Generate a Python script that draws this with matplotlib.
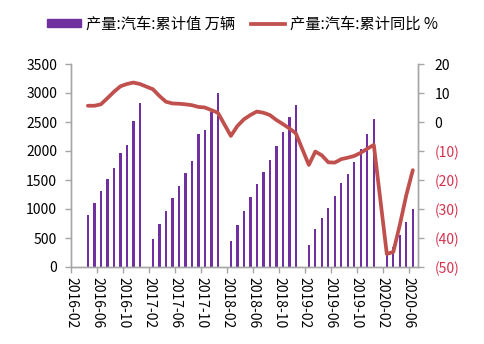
import matplotlib
matplotlib.use("Agg")
import matplotlib.pyplot as plt
from matplotlib.patches import Patch
from matplotlib.lines import Line2D
from matplotlib.ticker import FixedLocator, FuncFormatter

plt.rcParams['font.family'] = ['Noto Sans CJK SC', 'DejaVu Sans']

# Monthly cumulative auto production (万辆) and cumulative YoY growth (%)
months = [
    "2016-04", "2016-05", "2016-06", "2016-07", "2016-08", "2016-09", "2016-10", "2016-11", "2016-12",
    "2017-02", "2017-03", "2017-04", "2017-05", "2017-06", "2017-07", "2017-08", "2017-09", "2017-10", "2017-11", "2017-12",
    "2018-02", "2018-03", "2018-04", "2018-05", "2018-06", "2018-07", "2018-08", "2018-09", "2018-10", "2018-11", "2018-12",
    "2019-02", "2019-03", "2019-04", "2019-05", "2019-06", "2019-07", "2019-08", "2019-09", "2019-10", "2019-11", "2019-12",
    "2020-02", "2020-03", "2020-04", "2020-05", "2020-06",
]
production = [
    897, 1098, 1310, 1512, 1712, 1971, 2103, 2523, 2822,
    477, 741, 966, 1184, 1397, 1615, 1828, 2287, 2356, 2678, 3005,
    450, 724, 966, 1201, 1431, 1643, 1839, 2086, 2322, 2586, 2793,
    379, 649, 839, 1023, 1224, 1443, 1598, 1816, 2029, 2287, 2552,
    247, 347, 557, 770, 1000,
]
yoy = [
    5.6, 5.6, 6.1, 8.2, 10.4, 12.3, 13.1, 13.6, 13.1,
    11.3, 9.0, 7.0, 6.4, 6.3, 6.1, 5.8, 5.2, 5.0, 4.1, 3.2,
    -4.8, -1.4, 0.9, 2.4, 3.6, 3.2, 2.4, 0.7, -0.7, -2.2, -3.9,
    -14.8, -10.2, -11.5, -13.9, -14.0, -12.8, -12.3, -11.7, -10.6, -9.2, -7.9,
    -45.5, -44.8, -35.5, -25.2, -16.6,
]
tick_labels = ["2016-02", "2016-06", "2016-10", "2017-02", "2017-06", "2017-10", "2018-02",
               "2018-06", "2018-10", "2019-02", "2019-06", "2019-10", "2020-02", "2020-06"]


def month_index(s):
    y, m = s.split("-")
    return (int(y) - 2016) * 12 + int(m) - 2


x = [month_index(m) + 0.6 for m in months]
tick_pos = [month_index(t) for t in tick_labels]

BAR = "#7030A0"
LINE = "#C0504D"
NEG = "#D6304C"
SPINE = "#A6A6A6"

fig = plt.figure(figsize=(4.85, 3.44), dpi=100)
ax = fig.add_axes([71 / 485, 1 - 267 / 344, (418 - 71) / 485, (267 - 64) / 344])
ax2 = ax.twinx()

ax.bar(x, production, width=0.36, color=BAR, zorder=2)
ax2.plot(x, yoy, color=LINE, lw=2.7, solid_capstyle="round", solid_joinstyle="round", zorder=3)

ax.set_xlim(0, 53.4)
ax.set_ylim(0, 3500)
ax.set_yticks(range(0, 3501, 500))
ax2.set_ylim(-50, 20)
ax2.set_yticks(range(-50, 21, 10))

ax.xaxis.set_major_locator(FixedLocator(tick_pos))
ax.set_xticklabels(tick_labels, rotation=-90, fontsize=10)

ax2.yaxis.set_major_formatter(FuncFormatter(lambda v, p: f"({abs(int(v))})" if v < 0 else f"{int(v)}"))

for a in (ax, ax2):
    a.spines['top'].set_visible(False)
    for s in ('left', 'right', 'bottom'):
        a.spines[s].set_color(SPINE)
        a.spines[s].set_linewidth(1.0)
    a.tick_params(colors=SPINE, length=4, width=1.0, labelsize=10)
    a.tick_params(labelcolor="black")

ax.tick_params(axis='x', pad=3)
ax.tick_params(axis='y', pad=6)
ax2.tick_params(axis='y', pad=8)

for lab, v in zip(ax2.get_yticklabels(), range(-50, 21, 10)):
    lab.set_color(NEG if v < 0 else "black")

handles = [
    Patch(facecolor=BAR, edgecolor=BAR),
    Line2D([0], [0], color=LINE, lw=2.7),
]
labels = ["产量:汽车:累计值 万辆", "产量:汽车:累计同比 %"]
fig.legend(handles, labels, loc="center", bbox_to_anchor=(0.5, 1 - 24 / 344), ncol=2,
           frameon=False, fontsize=11, handlelength=2.2, handleheight=0.5,
           handletextpad=0.3, columnspacing=1.1)

fig.savefig("out.png", dpi=100)
